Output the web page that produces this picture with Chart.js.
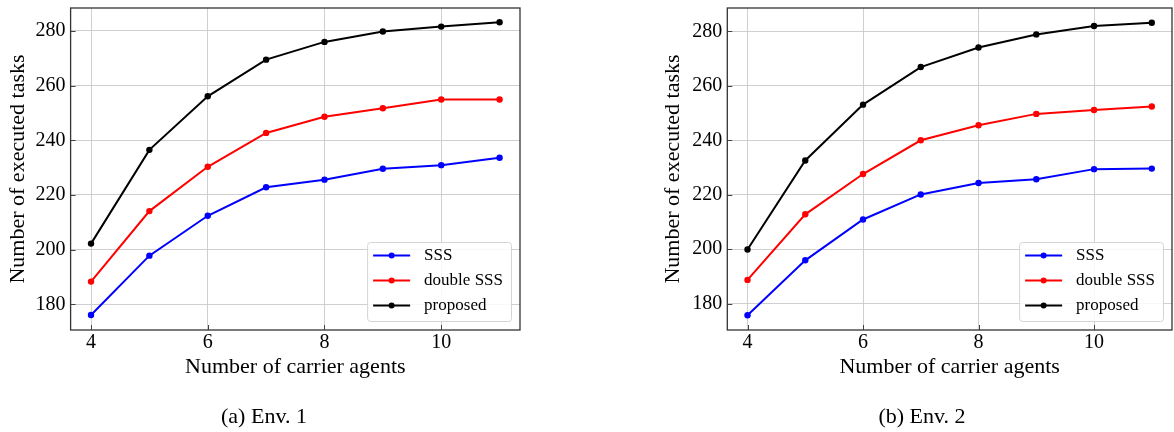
<!DOCTYPE html>
<html>
<head>
<meta charset="utf-8">
<script src="https://cdn.jsdelivr.net/npm/chart.js@4/dist/chart.umd.min.js"></script>
<style>
  html, body { margin: 0; padding: 0; background: #fff; }
  body { width: 1174px; height: 432px; overflow: hidden; position: relative; }
  .wrap { position: absolute; top: 0; }
  canvas { display: block; }
  .cap { position: absolute; width: 240px; text-align: center; font-family: "Liberation Serif", serif;
         font-size: 22px; line-height: 26px; color: #000; top: 403px; }
</style>
</head>
<body>
<div class="wrap" style="left:0px"><canvas id="c1" width="587" height="432"></canvas></div>
<div class="wrap" style="left:655px"><canvas id="c2" width="521" height="432"></canvas></div>
<div class="cap" style="left:144px">(a) Env. 1</div>
<div class="cap" style="left:802px">(b) Env. 2</div>
<script>
// ---- data ----
const agents = [4, 5, 6, 7, 8, 9, 10, 11];
const env1Sss      = [176.1, 197.8, 212.4, 222.8, 225.6, 229.6, 230.9, 233.6];
const env1Double   = [188.3, 214.1, 230.3, 242.7, 248.6, 251.7, 254.9, 254.9];
const env1Proposed = [202.2, 236.5, 256.1, 269.5, 276.0, 279.8, 281.6, 283.2];
const env2Sss      = [175.7, 195.9, 210.9, 220.1, 224.3, 225.7, 229.4, 229.6];
const env2Double   = [188.7, 212.8, 227.6, 240.0, 245.5, 249.7, 251.1, 252.4];
const env2Proposed = [199.9, 232.6, 253.1, 266.9, 274.1, 278.9, 282.0, 283.2];
const seriesNames  = ["SSS", "double SSS", "proposed"];
const seriesColors = ["#0000ff", "#ff0000", "#000000"];
const xTickValues  = [4, 6, 8, 10];
const yTickValues  = [180, 200, 220, 240, 260, 280];
const xTitle = "Number of carrier agents";
const yTitle = "Number of executed tasks";

const SERIF = "'Liberation Serif', 'Times New Roman', serif";

const frameAndLegend = {
  id: 'frameAndLegend',
  beforeDatasetsDraw(chart) {
    const {ctx, chartArea: a, scales} = chart;
    ctx.save();
    ctx.strokeStyle = '#444';
    ctx.lineWidth = 1;
    // inward tick marks
    xTickValues.forEach(v => {
      const px = Math.round(scales.x.getPixelForValue(v)) + 0.5;
      ctx.beginPath(); ctx.moveTo(px, a.bottom); ctx.lineTo(px, a.bottom - 5); ctx.stroke();
    });
    yTickValues.forEach(v => {
      const py = Math.round(scales.y.getPixelForValue(v)) + 0.5;
      ctx.beginPath(); ctx.moveTo(a.left, py); ctx.lineTo(a.left + 5, py); ctx.stroke();
    });
    ctx.restore();
  },
  afterDatasetsDraw(chart) {
    const {ctx, chartArea: a} = chart;
    ctx.save();
    // legend
    ctx.font = "17px " + SERIF;
    const ds = chart.data.datasets;
    let maxW = 0;
    ds.forEach(d => { maxW = Math.max(maxW, ctx.measureText(d.label).width); });
    const w = 6 + 37 + 14 + maxW + 8;
    const h = 79;
    const x0 = a.right - 9 - w;
    const y0 = a.bottom - 9 - h;
    ctx.beginPath();
    if (ctx.roundRect) ctx.roundRect(x0 + 0.5, y0 + 0.5, w, h, 3); else ctx.rect(x0 + 0.5, y0 + 0.5, w, h);
    ctx.fillStyle = 'rgba(255,255,255,0.85)';
    ctx.fill();
    ctx.strokeStyle = '#d4d4d4';
    ctx.lineWidth = 1;
    ctx.stroke();
    ds.forEach((d, i) => {
      const cy = y0 + 13.5 + i * 25;
      ctx.strokeStyle = d.borderColor;
      ctx.lineWidth = 2;
      ctx.beginPath(); ctx.moveTo(x0 + 6, cy); ctx.lineTo(x0 + 43, cy); ctx.stroke();
      ctx.fillStyle = d.borderColor;
      ctx.beginPath(); ctx.arc(x0 + 24.5, cy, 3, 0, Math.PI * 2); ctx.fill();
      ctx.fillStyle = '#000';
      ctx.textBaseline = 'middle';
      ctx.textAlign = 'left';
      ctx.fillText(d.label, x0 + 57, cy);
    });
    // frame
    ctx.strokeStyle = '#333';
    ctx.lineWidth = 1.3;
    ctx.strokeRect(a.left, a.top, a.right - a.left, a.bottom - a.top);
    ctx.restore();
  }
};

function makeChart(id, seriesList, yMin, yMax, yWidth, padRight) {
  const datasets = seriesList.map((vals, i) => ({
    label: seriesNames[i],
    data: agents.map((a, j) => ({x: a, y: vals[j]})),
    borderColor: seriesColors[i],
    backgroundColor: seriesColors[i],
    pointBackgroundColor: seriesColors[i],
    pointBorderWidth: 0,
    pointRadius: 3.2,
    borderWidth: 2,
    tension: 0,
    clip: false
  }));
  return new Chart(document.getElementById(id), {
    type: 'line',
    data: {datasets},
    plugins: [frameAndLegend],
    options: {
      responsive: false,
      animation: false,
      devicePixelRatio: 1,
      layout: {padding: {left: 0, top: 8, right: padRight, bottom: 0}},
      plugins: {legend: {display: false}, tooltip: {enabled: false}, title: {display: false}},
      scales: {
        x: {
          type: 'linear', min: 3.65, max: 11.35,
          afterBuildTicks: s => { s.ticks = xTickValues.map(v => ({value: v})); },
          afterFit: s => { s.height = 102; s.paddingLeft = 0; s.paddingRight = 0; s.paddingTop = 0; s.paddingBottom = 0; },
          grid: {color: '#cfcfcf', lineWidth: 1, drawTicks: false},
          border: {display: false},
          ticks: {color: '#000', padding: 1, maxRotation: 0, autoSkip: false,
                  font: {family: SERIF, size: 20, lineHeight: 1.2}},
          title: {display: true, text: xTitle, color: '#000',
                  font: {family: SERIF, size: 22, lineHeight: 1.2}, padding: {top: 0, bottom: 52}}
        },
        y: {
          type: 'linear', min: yMin, max: yMax,
          afterBuildTicks: s => { s.ticks = yTickValues.map(v => ({value: v})); },
          afterFit: s => { s.width = yWidth; s.paddingLeft = 0; s.paddingRight = 0; s.paddingTop = 0; s.paddingBottom = 0; },
          grid: {color: '#cfcfcf', lineWidth: 1, drawTicks: false},
          border: {display: false},
          ticks: {color: '#000', padding: 5, autoSkip: false,
                  font: {family: SERIF, size: 20, lineHeight: 1.2}},
          title: {display: true, text: yTitle, color: '#000',
                  font: {family: SERIF, size: 22, lineHeight: 1.2}, padding: {top: 5, bottom: 0}}
        }
      }
    }
  });
}

makeChart('c1', [env1Sss, env1Double, env1Proposed], 170.6, 288.4, 70.6, 67);
makeChart('c2', [env2Sss, env2Double, env2Proposed], 170.3, 288.6, 72.3, 0);
</script>
</body>
</html>
